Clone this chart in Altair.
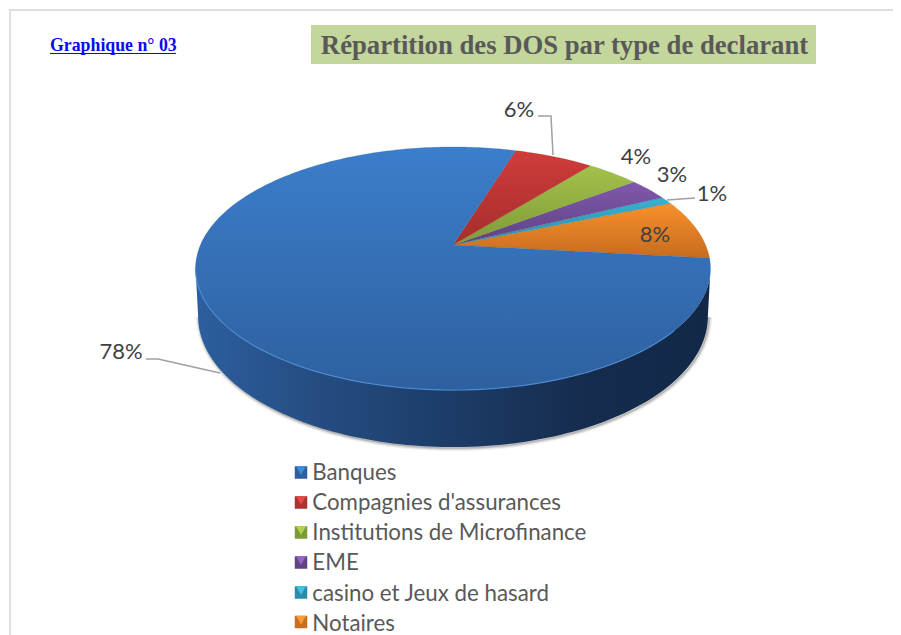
import numpy as np
import pandas as pd
import altair as alt

categories = ["Banques", "Compagnies d'assurances", "Institutions de Microfinance", "EME", "casino et Jeux de hasard", "Notaires"]
values = [78, 6, 4, 3, 1, 8]
legend_colors = ["#2d5f9e", "#aa3331", "#7d9a37", "#5f4383", "#2a8ca6", "#c96f1f"]
top_colors = ["#3b7ecb", "#cf3c3a", "#a2c24b", "#8058ad", "#38b2d2", "#f9902c"]
low_colors = ["#2e609f", "#a52e2c", "#7f9a38", "#5e4281", "#2b8ea8", "#c66c1e"]
legend_light = ["#3f8bd8", "#e04c4a", "#b2d254", "#9466c2", "#45c2e2", "#fb9c36"]
legend_rows = [472.5, 502.5, 532.5, 562.5, 592.5, 622]

label_texts = ["78%", "6%", "4%", "3%", "1%", "8%"]
label_x = [121, 519, 636, 672, 712, 655]
label_y = [352, 110, 157, 175, 194, 235]
leaders = [
    [(146, 359), (158, 359), (220, 373)],
    [(538, 116), (551, 116), (553, 155)],
    [(667, 200), (695, 198)],
]

W, H = 885, 627
XS = alt.Scale(domain=[8, 8 + W], nice=False, zero=False)
YS = alt.Scale(domain=[8 + H, 8], nice=False, zero=False)
X = alt.X("x:Q", scale=XS, axis=None)
Y = alt.Y("y:Q", scale=YS, axis=None)

# perspective view of the pie's disc
CX, CY, A, B, K, DEPTH = 453.0, 245.0, 252.6, 117.0, 0.1935, 46.0
START = -6.3


def rim(theta, lower=False):
    t = np.radians(theta)
    u, v = np.cos(t), np.sin(t)
    f = 1 + K * v
    if lower:
        return CX + 0.99 * A * u / f, CY - B * v / f + DEPTH / f
    return CX + A * u / f, CY - B * v / f


def polygon(xs, ys, fill, **kw):
    df = pd.DataFrame({"x": xs, "y": ys, "i": range(len(xs))})
    return alt.Chart(df).mark_line(
        interpolate="linear-closed", fill=fill, **kw
    ).encode(x=X, y=Y, order="i:Q")


def vgrad(c0, c1):
    return alt.Gradient(gradient="linear", x1=0, y1=0, x2=0, y2=1,
                        stops=[alt.GradientStop(color=c0, offset=0), alt.GradientStop(color=c1, offset=1)])


layers = []

# frame of the page
frame = pd.DataFrame({"x": [10, 10, 893], "y": [635, 10, 10], "i": [0, 1, 2]})
layers.append(alt.Chart(frame).mark_line(color="#dedede", strokeWidth=2).encode(x=X, y=Y, order="i:Q"))

# title band
band = pd.DataFrame({"x": [311], "x2": [816], "y": [25], "y2": [64]})
layers.append(alt.Chart(band).mark_rect(color="#c3d69b").encode(x=X, x2="x2:Q", y=Y, y2="y2:Q"))
layers.append(alt.Chart(pd.DataFrame({"x": [564.5], "y": [45.5], "t": ["Répartition des DOS par type de declarant"]}))
              .mark_text(font="Liberation Serif", fontWeight="bold", fontSize=26.7, color="#595959", align="center", baseline="middle")
              .encode(x=X, y=Y, text="t:N"))

# heading
layers.append(alt.Chart(pd.DataFrame({"x": [50], "y": [46], "t": ["Graphique n° 03"]}))
              .mark_text(font="Liberation Serif", fontWeight="bold", fontSize=17.8, color="#0a0aee", align="left", baseline="middle")
              .encode(x=X, y=Y, text="t:N"))
layers.append(alt.Chart(pd.DataFrame({"x": [50, 176], "y": [53.5, 53.5]})).mark_line(color="#0a0aee", strokeWidth=1).encode(x=X, y=Y))

# soft shadow below the wall, then the wall itself
front = np.linspace(191, 349, 120)
bx, by = rim(front, lower=True)
tx, ty = rim(front)
for width, op in [(6, 0.10), (3.5, 0.16), (1.5, 0.25)]:
    df = pd.DataFrame({"x": bx + 1, "y": by + 1, "i": range(len(bx))})
    layers.append(alt.Chart(df).mark_line(color="#555555", strokeWidth=width, opacity=op).encode(x=X, y=Y, order="i:Q"))

wall_fill = alt.Gradient(
    gradient="linear", x1=0, y1=0, x2=1, y2=0,
    stops=[alt.GradientStop(color="#2c5f9f", offset=0),
           alt.GradientStop(color="#264f85", offset=0.2),
           alt.GradientStop(color="#1e3f6c", offset=0.45),
           alt.GradientStop(color="#152c4e", offset=0.75),
           alt.GradientStop(color="#122847", offset=1)])
layers.append(polygon(np.r_[tx, bx[::-1]], np.r_[ty, by[::-1]], wall_fill, strokeWidth=0, opacity=1))

# top face, one wedge per category, laid out from the values
angle = START
for idx in reversed(range(len(categories))):
    span = values[idx] * 3.6
    th = np.linspace(angle, angle + span, max(int(span), 4))
    rx, ry = rim(th)
    layers.append(polygon(np.r_[CX, rx], np.r_[CY, ry], vgrad(top_colors[idx], low_colors[idx]),
                          stroke=low_colors[idx], strokeWidth=0.4, strokeOpacity=0.6))
    angle += span

# light edge along the front of the disc
hx, hy = rim(np.linspace(190, 320, 100))
hdf = pd.DataFrame({"x": hx, "y": hy, "i": range(len(hx))})
layers.append(alt.Chart(hdf).mark_line(color="#4f8fd8", strokeWidth=1.2, opacity=0.8).encode(x=X, y=Y, order="i:Q"))

# leader lines
for seg in leaders:
    df = pd.DataFrame({"x": [p[0] for p in seg], "y": [p[1] for p in seg], "i": range(len(seg))})
    layers.append(alt.Chart(df).mark_line(color="#a0a0a0", strokeWidth=1.5).encode(x=X, y=Y, order="i:Q"))

# value labels
ldf = pd.DataFrame({"x": label_x, "y": label_y, "t": label_texts})
layers.append(alt.Chart(ldf).mark_text(font="Lato", fontSize=22, color="#404040", align="center", baseline="middle")
              .encode(x=X, y=Y, text="t:N"))

# legend swatches as marks (they carry the legend, whose own symbols stay clear so the bevel shows)
ldg = pd.DataFrame({"x": [301] * 6, "y": legend_rows, "c": categories})
layers.append(alt.Chart(ldg).mark_square(opacity=1, size=156, filled=True).encode(
    x=X, y=Y,
    color=alt.Color("c:N", scale=alt.Scale(domain=categories, range=legend_colors),
                    legend=alt.Legend(title=None, orient="none", legendX=282, legendY=454,
                                      symbolType="square", symbolSize=144, symbolOpacity=0,
                                      symbolStrokeWidth=0,
                                      labelFont="Lato", labelFontSize=22.3, labelColor="#595959",
                                      labelLimit=400, labelOffset=0, rowPadding=7.1, padding=0)),
))

bev = pd.DataFrame({"x": [301] * 6, "y": [r - 1.8 for r in legend_rows], "c": categories})
layers.append(alt.Chart(bev).mark_point(shape="triangle-down", filled=True, size=100, opacity=1).encode(
    x=X, y=Y,
    fill=alt.Fill("c:N", scale=alt.Scale(domain=categories, range=legend_light), legend=None),
))

chart = alt.layer(*layers).properties(
    width=W, height=H, padding=0, autosize=alt.AutoSizeParams(type="none"),
    background="white",
).configure_view(stroke=None)

chart.save("out.html", embed_options={"renderer": "svg", "actions": False})
